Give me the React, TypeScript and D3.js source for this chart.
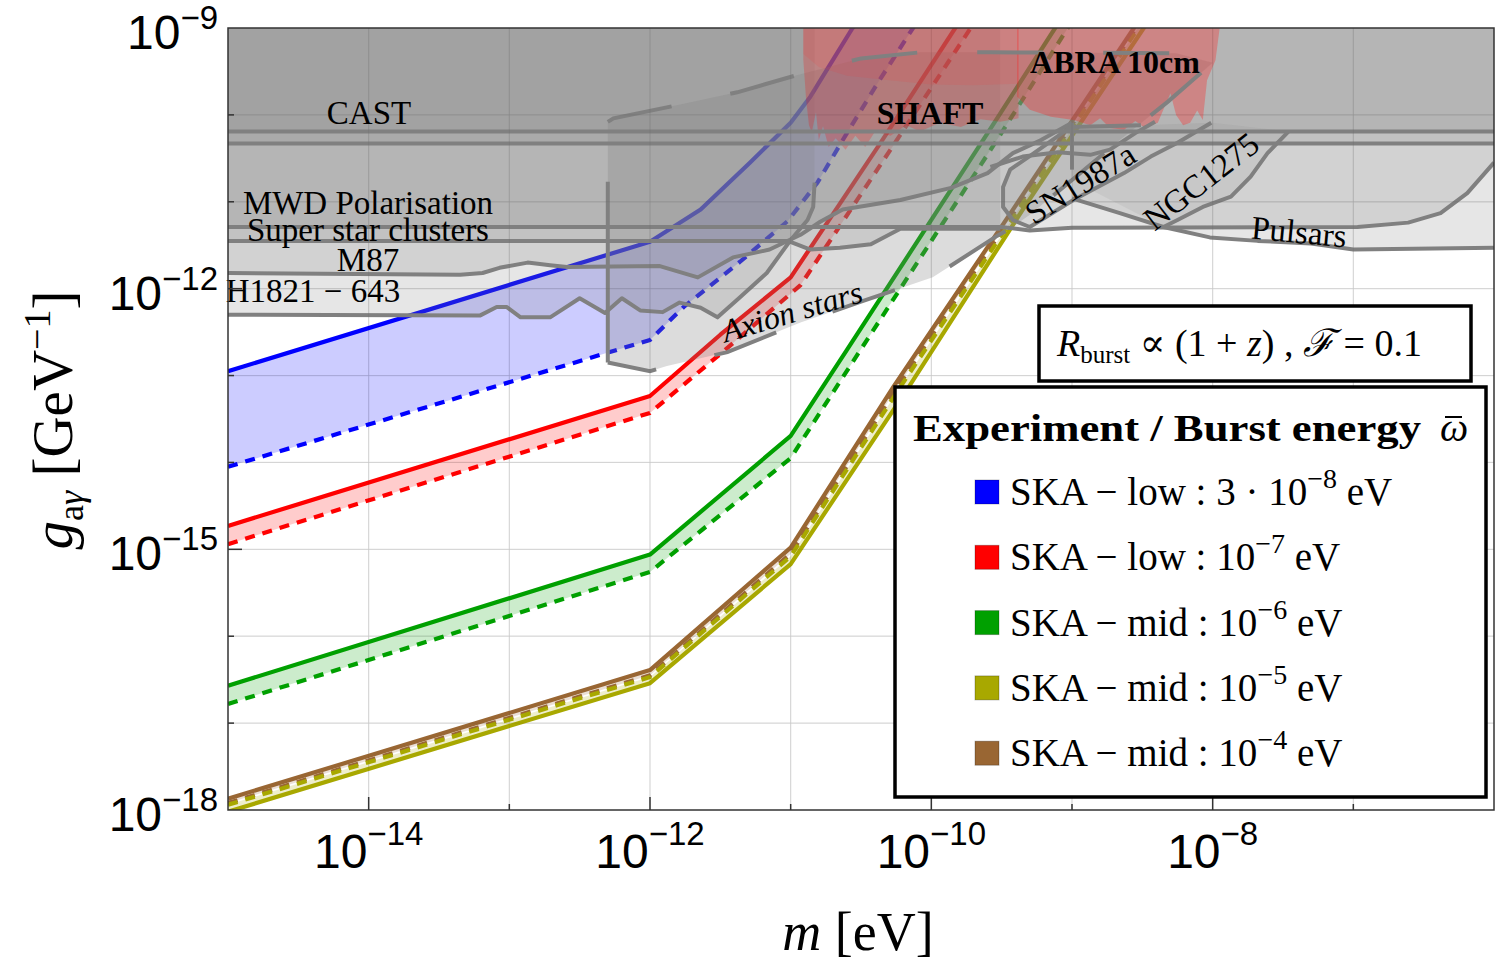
import React from "react";
import * as d3 from "d3";

type Pt = [number, number]; // [log10(m / eV), log10(g / GeV^-1)]

// ---------- axes ----------
const X_DOMAIN: [number, number] = [1e-15, 1e-6];
const Y_DOMAIN: [number, number] = [1e-18, 1e-9];
const X_LABEL_EXPS = [-14, -12, -10, -8];
const Y_LABEL_EXPS = [-18, -15, -12, -9];
const X_GRID_EXPS = [-14, -13, -12, -11, -10, -9, -8, -7];
const Y_GRID_EXPS = [-17, -16, -15, -14, -13, -12, -11, -10];

// ---------- SKA sensitivity curves ----------
const skaLow3e8Solid: Pt[] = [[-15, -12.95], [-12, -11.46], [-11.64, -11.09], [-11.29, -10.55], [-11.0, -10.09], [-10.86, -9.79], [-10.56, -9.0], [-10.5, -8.9]];
const skaLow3e8Dashed: Pt[] = [[-15, -14.05], [-12, -12.59], [-11.76, -12.21], [-11.36, -11.69], [-11.02, -11.22], [-10.81, -10.78], [-10.6, -10.21], [-10.38, -9.63], [-10.13, -9.0], [-10.09, -8.9]];
const skaLow1e7Solid: Pt[] = [[-15, -14.73], [-12, -13.235], [-11.5, -12.53], [-11.0, -11.87], [-10.36, -10.32], [-9.83, -9.0], [-9.78, -8.9]];
const skaLow1e7Dashed: Pt[] = [[-15, -14.94], [-12, -13.43], [-11.47, -12.71], [-10.93, -11.96], [-10.29, -10.4], [-9.72, -9.0], [-9.67, -8.9]];
const skaMid1e6Solid: Pt[] = [[-15, -16.57], [-12, -15.06], [-11, -13.695], [-10.6, -12.705], [-9.6, -10.21], [-9.12, -9.0], [-9.08, -8.9]];
const skaMid1e6Dashed: Pt[] = [[-15, -16.78], [-12, -15.26], [-11, -13.95], [-10.65, -13.07], [-9.51, -10.23], [-9.03, -9.0], [-8.99, -8.9]];
const skaMid1e5Solid: Pt[] = [[-15, -18.02], [-12, -16.54], [-11, -15.17], [-10.16, -13.13], [-9.35, -11.09], [-8.49, -9.0], [-8.45, -8.9]];
const skaMid1e5Dashed: Pt[] = [[-15, -17.94], [-12, -16.47], [-11, -15.08], [-10.22, -13.13], [-9.38, -11.09], [-8.53, -9.0], [-8.49, -8.9]];
const skaMid1e4Solid: Pt[] = [[-15, -17.87], [-12, -16.39], [-11, -14.98], [-10.27, -13.13], [-9.42, -11.09], [-8.56, -9.0], [-8.52, -8.9]];
const skaMid1e4Dashed: Pt[] = [[-15, -17.92], [-12, -16.45], [-11, -15.05], [-10.24, -13.13], [-9.4, -11.09], [-8.545, -9.0], [-8.5, -8.9]];

// ---------- existing bounds (lower edge of excluded region) ----------
const castEdge: Pt[] = [[-15, -10.19], [-6, -10.19]];
const hbEdge: Pt[] = [[-15, -10.33], [-6, -10.33]];
const mwdEdge: Pt[] = [[-15, -11.29], [-9.5, -11.29], [-9.3, -11.33], [-9.0, -11.3], [-6.97, -11.29], [-6.61, -11.24], [-6.38, -11.13], [-6.19, -10.9], [-6.0, -10.55]];
const sscEdge: Pt[] = [[-15, -11.45], [-11.02, -11.45], [-10.86, -11.55], [-10.65, -11.53], [-10.43, -11.49], [-10.22, -11.31], [-9.51, -11.31]];
const m87Edge: Pt[] = [[-15, -11.82], [-13.35, -11.84], [-13.19, -11.82], [-13.07, -11.76], [-12.87, -11.7], [-12.71, -11.73], [-12.59, -11.75], [-11.93, -11.74], [-11.66, -11.87], [-11.41, -11.64], [-11.15, -11.55], [-10.93, -11.38], [-10.79, -11.23], [-10.63, -11.09], [-10.22, -10.98], [-9.86, -10.84], [-9.6, -10.67], [-9.42, -10.44], [-9.22, -10.29], [-9.0, -10.09]];
const h1821Edge: Pt[] = [[-15, -12.3], [-13.21, -12.31], [-13.09, -12.21], [-13.02, -12.21], [-12.92, -12.33], [-12.71, -12.33], [-12.5, -12.11], [-12.32, -12.28], [-12.2, -12.11], [-12.07, -12.25], [-11.91, -12.27], [-11.79, -12.16], [-11.64, -12.22], [-11.52, -12.33], [-11.36, -12.1], [-11.17, -11.82], [-11.0, -11.44], [-10.88, -11.21], [-10.84, -11.06], [-10.83, -10.78]];
const pulsarEdge: Pt[] = [[-9.0, -10.96], [-8.66, -11.13], [-8.35, -11.29], [-8.02, -11.41], [-7.68, -11.45], [-7.3, -11.48], [-7.0, -11.55], [-6.0, -11.53]];
const sn1987aLoop: Pt[] = [[-8.51, -10.12], [-9.01, -10.14], [-9.27, -10.44], [-9.44, -10.63], [-9.49, -10.83], [-9.49, -11.06], [-9.42, -11.21], [-9.3, -11.29], [-8.99, -10.98], [-8.63, -10.67], [-8.44, -10.48], [-8.25, -10.32], [-8.01, -10.09]];
const sn1987aUpper: Pt[] = [[-9.58, -10.6], [-9.35, -10.48], [-9.1, -10.43], [-8.87, -10.46], [-8.73, -10.4], [-8.55, -10.21], [-8.41, -10.08]];
const ngc1275Region: Pt[] = [[-8.35, -11.29], [-8.25, -11.21], [-8.07, -11.06], [-7.87, -10.94], [-7.73, -10.71], [-7.61, -10.44], [-7.46, -10.19], [-8.0, -10.09], [-8.25, -10.32], [-8.44, -10.48], [-8.63, -10.67], [-8.87, -10.86]];
const ngc1275Outline: Pt[] = ngc1275Region.slice(0, 7);
const projectedRegion: Pt[] = [[-12.3, -12.85], [-12.3, -10.08], [-12.26, -10.04], [-11.81, -9.89], [-11.38, -9.74], [-10.95, -9.54], [-10.5, -9.35], [-10.08, -9.28], [-9.58, -9.28], [-8.26, -9.29], [-8.0, -9.4], [-8.32, -9.85], [-8.66, -10.29], [-9.0, -10.75], [-9.3, -11.15], [-9.44, -11.31], [-9.53, -11.39], [-9.99, -11.87], [-10.5, -12.15], [-10.93, -12.39], [-11.45, -12.73], [-11.88, -12.89], [-12.0, -12.95], [-12.3, -12.85]];
const verticalBound1: Pt[] = [[-12.3, -10.77], [-12.3, -12.85]];
const verticalBound2: Pt[] = [[-9.0, -10.09], [-9.0, -10.63]];

// ---------- haloscopes ----------
const shaftRegion: Pt[] = [[-10.91, -8.5], [-10.91, -9.37], [-10.89, -9.83], [-10.87, -10.12], [-10.85, -10.2], [-10.82, -9.97], [-10.8, -10.29], [-10.77, -10.13], [-10.73, -10.37], [-10.68, -10.27], [-10.61, -10.4], [-10.54, -10.24], [-10.47, -10.37], [-10.4, -10.19], [-10.29, -10.24], [-10.18, -10.12], [-10.08, -10.19], [-9.94, -10.09], [-9.79, -10.14], [-9.65, -10.05], [-9.51, -10.08], [-9.38, -10.04], [-9.38, -8.5]];
const shaftCore: Pt[] = [[-10.91, -8.5], [-10.91, -9.3], [-10.8, -9.45], [-10.6, -9.55], [-10.3, -9.6], [-10.0, -9.65], [-9.7, -9.66], [-9.38, -9.64], [-9.38, -8.5]];
const abraRegion: Pt[] = [[-9.39, -8.5], [-9.39, -9.79], [-9.3, -9.94], [-9.15, -10.02], [-8.99, -10.06], [-8.87, -10.12], [-8.8, -10.04], [-8.73, -10.15], [-8.63, -10.17], [-8.55, -10.07], [-8.48, -10.15], [-8.39, -10.09], [-8.34, -9.9], [-8.3, -9.75], [-8.26, -10.0], [-8.21, -10.12], [-8.16, -10.09], [-8.11, -9.95], [-8.07, -10.06], [-8.04, -9.6], [-7.98, -9.37], [-7.91, -8.5]];

// ---------- legend ----------
const legendColors = ["#0000ff", "#ff0000", "#00a000", "#a8a800", "#996633"];
const legendNames = ["SKA − low : 3 · 10", "SKA − low : 10", "SKA − mid : 10", "SKA − mid : 10", "SKA − mid : 10"];
const legendExps = ["−8", "−7", "−6", "−5", "−4"];

const SERIF = "'Liberation Serif', 'DejaVu Serif', serif";
const SANS = "'Liberation Sans', Arial, sans-serif";
const GRAY = "#808080";

export default function App() {
  const W = 1495, H = 979;
  const L = 228, R = 1494, T = 28, B = 810;
  const x = d3.scaleLog().domain(X_DOMAIN).range([L, R]);
  const y = d3.scaleLog().domain(Y_DOMAIN).range([B, T]);
  const px = (p: Pt) => x(Math.pow(10, p[0]));
  const py = (p: Pt) => y(Math.pow(10, p[1]));
  const line = d3.line<Pt>().x(px).y(py);
  const poly = (pts: Pt[]) => (line(pts) || "") + "Z";
  const capTop = (edge: Pt[]): Pt[] => [...edge, [edge[edge.length - 1][0], -8.5], [edge[0][0], -8.5]];
  const band = (a: Pt[], b: Pt[]) => poly([...a, ...b.slice().reverse()]);

  const seriesBands = [
    { s: skaMid1e4Solid, d: skaMid1e4Dashed, c: "rgba(153,102,51,0.2)" },
    { s: skaMid1e5Solid, d: skaMid1e5Dashed, c: "rgba(168,168,0,0.2)" },
    { s: skaMid1e6Solid, d: skaMid1e6Dashed, c: "rgba(0,160,0,0.2)" },
    { s: skaLow1e7Solid, d: skaLow1e7Dashed, c: "rgba(255,0,0,0.2)" },
    { s: skaLow3e8Solid, d: skaLow3e8Dashed, c: "rgba(0,0,255,0.2)" },
  ];
  const seriesLines = [
    { p: skaMid1e4Dashed, c: "#996633", dash: true },
    { p: skaMid1e5Dashed, c: "#a8a800", dash: true },
    { p: skaMid1e5Solid, c: "#a8a800", dash: false },
    { p: skaMid1e4Solid, c: "#996633", dash: false },
    { p: skaMid1e6Dashed, c: "#00a000", dash: true },
    { p: skaMid1e6Solid, c: "#00a000", dash: false },
    { p: skaLow1e7Dashed, c: "#ff0000", dash: true },
    { p: skaLow1e7Solid, c: "#ff0000", dash: false },
    { p: skaLow3e8Dashed, c: "#0000ff", dash: true },
    { p: skaLow3e8Solid, c: "#0000ff", dash: false },
  ];
  const grayFills = [castEdge, hbEdge, mwdEdge, sscEdge, m87Edge, h1821Edge, pulsarEdge].map(capTop);
  const grayStrokes = [castEdge, hbEdge, mwdEdge, sscEdge, m87Edge, h1821Edge, pulsarEdge, sn1987aLoop, sn1987aUpper, ngc1275Outline, verticalBound1, verticalBound2];

  return (
    <svg width={W} height={H} style={{ position: "absolute", left: 0, top: 0, background: "#fff" }}>
      <defs>
        <clipPath id="plot">
          <rect x={L} y={T} width={R - L} height={B - T} />
        </clipPath>
      </defs>
      <rect x={L} y={T} width={R - L} height={B - T} fill="#fff" />
      <g clipPath="url(#plot)">
        {X_GRID_EXPS.map((e) => (
          <line key={"gx" + e} x1={x(10 ** e)} x2={x(10 ** e)} y1={T} y2={B} stroke="#e2e2e2" strokeWidth={1.2} />
        ))}
        {Y_GRID_EXPS.map((e) => (
          <line key={"gy" + e} x1={L} x2={R} y1={y(10 ** e)} y2={y(10 ** e)} stroke="#e2e2e2" strokeWidth={1.2} />
        ))}
        {seriesBands.map((b, i) => (
          <path key={"b" + i} d={band(b.s, b.d)} fill={b.c} />
        ))}
        {seriesLines.map((l, i) => (
          <path key={"l" + i} d={line(l.p) || ""} fill="none" stroke={l.c} strokeWidth={4.2}
            strokeDasharray={l.dash ? "10 8" : undefined} strokeLinejoin="round" />
        ))}
        {grayFills.map((p, i) => (
          <path key={"gf" + i} d={poly(p)} fill={GRAY} fillOpacity={0.2} />
        ))}
        <path d={poly(projectedRegion)} fill={GRAY} fillOpacity={0.28} />
        <path d={poly(sn1987aLoop)} fill={GRAY} fillOpacity={0.15} />
        <path d={poly(ngc1275Region)} fill={GRAY} fillOpacity={0.12} />
        <path d={poly(shaftRegion)} fill="#ff0000" fillOpacity={0.22} />
        <path d={poly(shaftCore)} fill="#ff3030" fillOpacity={0.12} />
        <path d={poly(abraRegion)} fill="#ff2020" fillOpacity={0.32} />
        {grayStrokes.map((p, i) => (
          <path key={"gs" + i} d={line(p) || ""} fill="none" stroke={GRAY} strokeWidth={4} strokeLinejoin="round" />
        ))}
        <path d={line(projectedRegion.slice(1)) || ""} fill="none" stroke={GRAY} strokeWidth={4} strokeDasharray="66 60" />
        {X_GRID_EXPS.map((e) => (
          <line key={"gx2" + e} x1={x(10 ** e)} x2={x(10 ** e)} y1={T} y2={B} stroke="rgba(0,0,0,0.06)" strokeWidth={1} />
        ))}
        {Y_GRID_EXPS.map((e) => (
          <line key={"gy2" + e} x1={L} x2={R} y1={y(10 ** e)} y2={y(10 ** e)} stroke="rgba(0,0,0,0.06)" strokeWidth={1} />
        ))}
      </g>

      {/* region labels */}
      <g fontFamily={SERIF} fontSize={33} fill="#000" textAnchor="middle">
        <text x={369} y={124}>CAST</text>
        <text x={368} y={214}>MWD Polarisation</text>
        <text x={368} y={241}>Super star clusters</text>
        <text x={368} y={271}>M87</text>
        <text x={313} y={302}>H1821 − 643</text>
        <text x={930} y={124} fontWeight="bold" fontSize={32}>SHAFT</text>
        <text x={1115} y={73} fontWeight="bold" fontSize={32}>ABRA 10cm</text>
        <text transform="translate(795,322) rotate(-16.5)" fontStyle="italic" fontSize={32}>Axion stars</text>
        <text transform="translate(1086,193) rotate(-32)" fontSize={33}>SN1987a</text>
        <text transform="translate(1208,190) rotate(-38)" fontSize={33}>NGC1275</text>
        <text transform="translate(1298,243) rotate(5.3)" fontSize={33}>Pulsars</text>
      </g>

      {/* frame & ticks */}
      <rect x={L} y={T} width={R - L} height={B - T} fill="none" stroke="#333" strokeWidth={1.5} />
      {X_GRID_EXPS.map((e) => (
        <line key={"tx" + e} x1={x(10 ** e)} x2={x(10 ** e)} y1={B} y2={B - (X_LABEL_EXPS.includes(e) ? 13 : 6)} stroke="#333" strokeWidth={1.5} />
      ))}
      {Y_GRID_EXPS.map((e) => (
        <line key={"ty" + e} x1={L} x2={L + (Y_LABEL_EXPS.includes(e) ? 14 : 6)} y1={y(10 ** e)} y2={y(10 ** e)} stroke="#333" strokeWidth={1.5} />
      ))}
      {X_LABEL_EXPS.map((e) => (
        <text key={"xl" + e} x={x(10 ** e)} y={868} textAnchor="middle" fontFamily={SANS} fontSize={48}>
          10<tspan dy={-23} fontSize={33}>{"−" + Math.abs(e)}</tspan>
        </text>
      ))}
      {Y_LABEL_EXPS.map((e) => (
        <text key={"yl" + e} x={218} y={y(10 ** e) + 21} textAnchor="end" fontFamily={SANS} fontSize={48}>
          10<tspan dy={-20} fontSize={33}>{"−" + Math.abs(e)}</tspan>
        </text>
      ))}

      {/* axis titles */}
      <text x={858} y={950} textAnchor="middle" fontFamily={SERIF} fontSize={54}>
        <tspan fontStyle="italic">m</tspan> [eV]
      </text>
      <text transform="translate(72,420) rotate(-90)" textAnchor="middle" fontFamily={SERIF} fontSize={57}>
        <tspan fontStyle="italic">g</tspan>
        <tspan fontSize={36} dy={11}>a</tspan>
        <tspan fontSize={36} fontStyle="italic">γ</tspan>
        <tspan dy={-11}> [GeV</tspan>
        <tspan fontSize={38} dy={-22}>−1</tspan>
        <tspan dy={22}>]</tspan>
      </text>

      {/* info box */}
      <rect x={1039} y={306} width={432} height={75} fill="#fff" stroke="#000" strokeWidth={3.5} />
      <text x={1057} y={356} fontFamily={SERIF} fontSize={38}>
        <tspan fontStyle="italic">R</tspan>
        <tspan fontSize={25} dy={7}>burst</tspan>
        <tspan dy={-7}> ∝ (1 + </tspan>
        <tspan fontStyle="italic">z</tspan>
        <tspan>)  ,   </tspan>
        <tspan fontStyle="italic">ℱ</tspan>
        <tspan> = 0.1</tspan>
      </text>

      {/* legend */}
      <rect x={895} y={387} width={591} height={410} fill="#fff" stroke="#000" strokeWidth={3.5} />
      <text x={913} y={441} fontFamily={SERIF} fontSize={38} fontWeight="bold" textLength={508} lengthAdjust="spacingAndGlyphs">
        Experiment / Burst energy
      </text>
      <text x={1440} y={441} fontFamily={SERIF} fontSize={40} fontStyle="italic">ω</text>
      <line x1={1445} x2={1462} y1={417} y2={417} stroke="#000" strokeWidth={2} />
      {legendColors.map((c, i) => {
        const cy = 492 + i * 65.3;
        return (
          <g key={"lg" + i}>
            <rect x={975} y={cy - 12} width={24} height={24} fill={c} stroke="rgba(0,0,0,0.25)" strokeWidth={1} />
            <text x={1010} y={cy + 13} fontFamily={SERIF} fontSize={39}>
              {legendNames[i]}
              <tspan dy={-17} fontSize={28}>{legendExps[i]}</tspan>
              <tspan dy={17}> eV</tspan>
            </text>
          </g>
        );
      })}
    </svg>
  );
}
